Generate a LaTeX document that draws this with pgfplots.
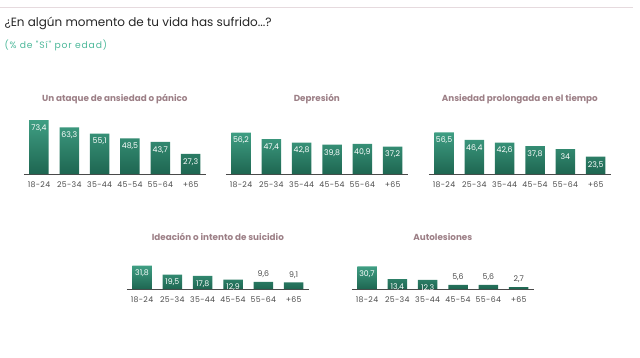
\documentclass[border=0pt]{standalone}
\usepackage{pgfplots}
\pgfplotsset{compat=1.18}
\usepackage{fontspec}
\setmainfont{Poppins}
\newfontfamily\subfont{Poppins}[LetterSpace=9]
\newfontfamily\tickfont{Poppins}[LetterSpace=4]
\definecolor{bartop}{HTML}{3F9E83}
\definecolor{barbot}{HTML}{1E6651}
\definecolor{ptitle}{HTML}{9C7F86}
\definecolor{tick}{HTML}{4A4A4A}
\definecolor{subt}{HTML}{4DB89A}
\definecolor{topline}{HTML}{E6DADE}
\pgfplotsset{
  panel/.style={
    scale only axis, width=182pt, height=58.8pt,
    xmin=-0.5, xmax=5.5, ymin=0, ymax=80,
    axis x line*=bottom, axis y line=none,
    x axis line style={draw=tick, line width=0.9pt, -},
    xtick={0,...,5}, xticklabels={18-24,25-34,35-44,45-54,55-64,+65},
    major tick length=0pt,
    xticklabel style={font=\tickfont\fontsize{7.8}{9}\selectfont, text=tick, yshift=-4pt},
    /pgf/number format/assume math mode=true,
    /pgf/number format/.cd, use comma, fixed, precision=1, /pgfplots/.cd,
    ybar, bar width=19.5pt, bar shift=0pt,
    enlarge x limits=false, clip=false,
    title style={font=\bfseries\fontsize{8.8}{10}\selectfont, text=ptitle},
    visualization depends on={rawy \as \ry},
    nodes near coords,
    every node near coord/.append style={font=\fontsize{7.8}{9}\selectfont,
      /utils/exec={\ifdim\ry pt<10pt
          \pgfkeysalso{anchor=south, text=tick, yshift=0.5pt}%
        \else
          \pgfkeysalso{anchor=north, text=white, yshift=-1pt}%
        \fi}},
  },
  pbar/.style={draw=none, top color=bartop, bottom color=barbot},
}
\begin{document}
\begin{tikzpicture}[x=1pt,y=1pt]
\path[use as bounding box] (0,0) rectangle (640,357);
\draw[topline, line width=0.8pt] (0,350) -- (633,350);
\node[anchor=west, font=\fontsize{12}{14}\selectfont, text=black!85] at (1,334) {¿En algún momento de tu vida has sufrido...?};
\node[anchor=west, font=\subfont\fontsize{9.2}{10}\selectfont, text=subt] at (1,312) {(\% de "Sí" por edad)};

\begin{axis}[panel, at={(39pt,183pt)}, anchor=origin, title={Un ataque de ansiedad o pánico}, title style={at={(0.5,1)}, yshift=2pt}]
\addplot[pbar] coordinates {(0,73.4) (1,63.3) (2,55.1) (3,48.5) (4,43.7) (5,27.3)};
\end{axis}
\begin{axis}[panel, at={(241pt,183pt)}, anchor=origin, title={Depresión}, title style={at={(0.5,1)}, yshift=2pt}]
\addplot[pbar] coordinates {(0,56.2) (1,47.4) (2,42.8) (3,39.8) (4,40.9) (5,37.2)};
\end{axis}
\begin{axis}[panel, at={(444pt,183pt)}, anchor=origin, title={Ansiedad prolongada en el tiempo}, title style={at={(0.5,1)}, yshift=2pt}]
\addplot[pbar] coordinates {(0,56.5) (1,46.4) (2,42.6) (3,37.8) (4,34) (5,23.5)};
\end{axis}
\begin{axis}[panel, at={(142pt,68pt)}, anchor=origin, title={Ideación o intento de suicidio}, title style={at={(0.5,1)}, yshift=-20pt}]
\addplot[pbar] coordinates {(0,31.8) (1,19.5) (2,17.8) (3,12.9) (4,9.6) (5,9.1)};
\end{axis}
\begin{axis}[panel, at={(367pt,68pt)}, anchor=origin, title={Autolesiones}, title style={at={(0.5,1)}, yshift=-20pt}]
\addplot[pbar] coordinates {(0,30.7) (1,13.4) (2,12.3) (3,5.6) (4,5.6) (5,2.7)};
\end{axis}
\end{tikzpicture}
\end{document}
